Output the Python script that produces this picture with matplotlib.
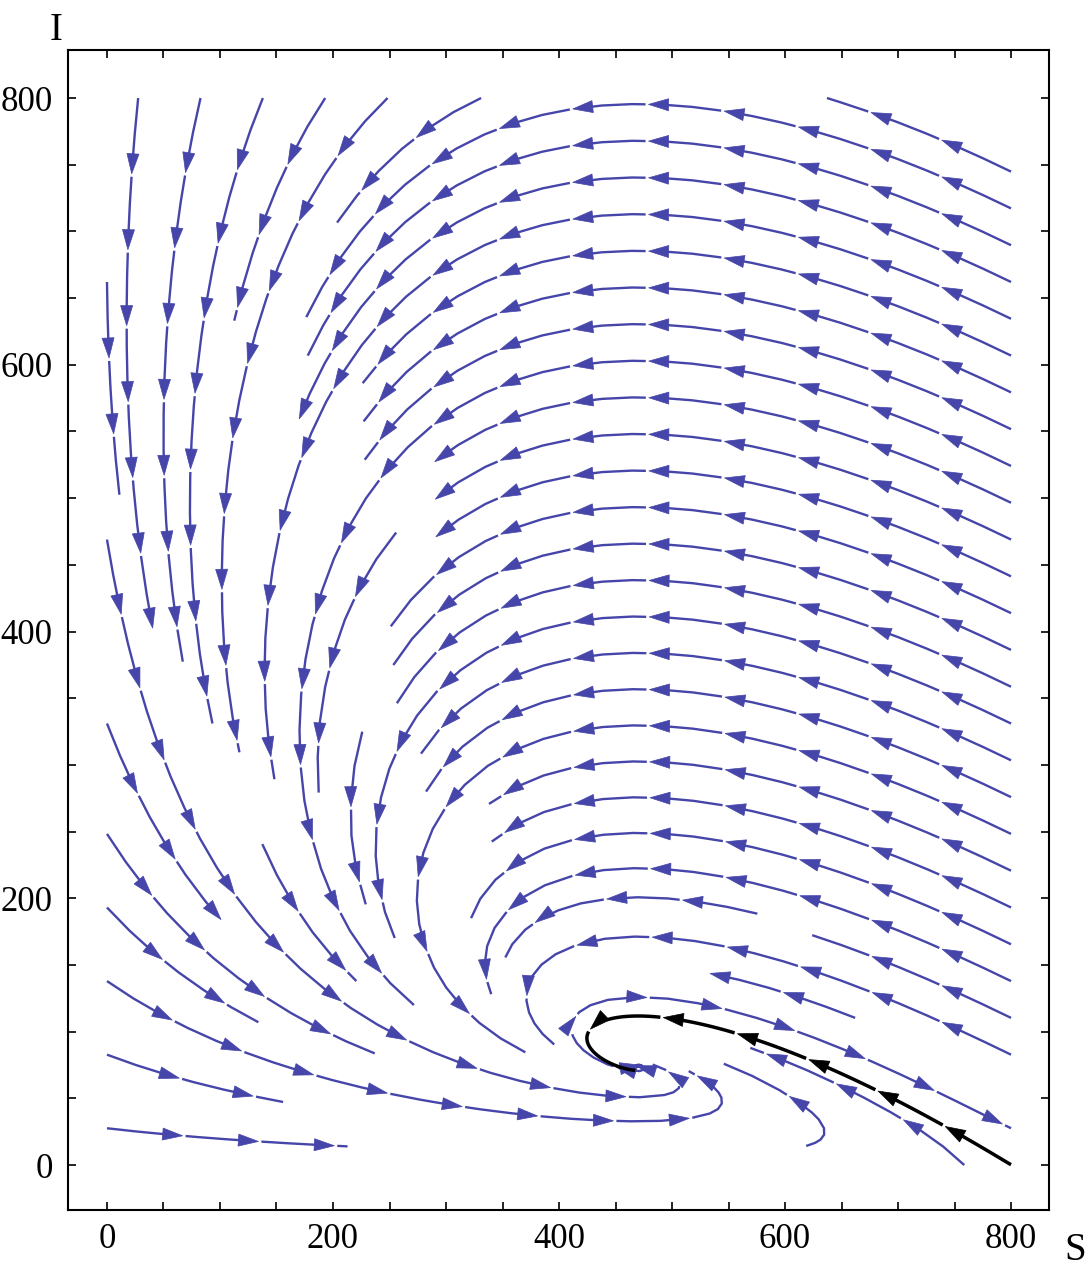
import numpy as np
import matplotlib
matplotlib.use('Agg')
import matplotlib.pyplot as plt
from matplotlib.collections import LineCollection, PolyCollection
from matplotlib.ticker import MultipleLocator

# vector field of the (S, I) phase plane
s_star = 470.0       # I-nullcline: dI/dt = 0 at S = s_star
null_amp = 706.0     # S-nullcline: I = null_amp*(exp(-S/null_scale) - exp(-s_max/null_scale))
null_scale = 240.0
s_rate = 800.0       # relative speed of S
s_weight = 267.0
s_max = 800.0
i_max = 800.0

# black orbit: starts next to (800, 0) and stops after one turn
orbit_start = (800.0, 0.3)
orbit_stop_s = 467.0

major_ticks = [0, 200, 400, 600, 800]
blue = '#4545AA'


def field(S, I):
    nul = null_amp * (np.exp(-S / null_scale) - np.exp(-s_max / null_scale))
    dS = s_rate * (S + s_weight) / (s_max + s_weight) * (nul - I)
    dI = I * (S - s_star)
    return dS, dI


fig = plt.figure(figsize=(10.88, 12.79), dpi=100)
ax = fig.add_axes([68 / 1088, 1 - 1210 / 1279, (1049 - 68) / 1088, (1210 - 50) / 1279])
ax.set_xlim(-34.5, 833.6)
ax.set_ylim(-33.7, 836)

to_px = ax.transData.transform
to_data = ax.transData.inverted().transform

# streamlines from matplotlib, on a scratch axes
Sg = np.linspace(0, s_max, 201)
Ig = np.linspace(0, i_max, 201)
SS, II = np.meshgrid(Sg, Ig)
U, V = field(SS, II)
tmp_fig, tmp_ax = plt.subplots()
sp = tmp_ax.streamplot(Sg, Ig, U, V, density=1.0, minlength=0.15)
segs = sp.lines.get_segments()
plt.close(tmp_fig)

paths = []
cur = None
for seg in segs:
    seg = np.asarray(seg)
    if cur is not None and np.allclose(seg[0], cur[-1]):
        cur.extend(list(seg[1:]))
    else:
        if cur is not None:
            paths.append(np.array(cur))
        cur = list(seg)
if cur is not None:
    paths.append(np.array(cur))


def chop(path, spacing=76.0, head_len=20.0, head_w=12.0, gap=3.0):
    P = to_px(path)
    d = np.hypot(*np.diff(P, axis=0).T)
    keep = np.concatenate([[True], d > 1e-6])
    P = P[keep]
    if len(P) < 2:
        return [], []
    s = np.concatenate([[0], np.cumsum(np.hypot(*np.diff(P, axis=0).T))])
    total = s[-1]

    def at(t):
        return np.array([np.interp(t, s, P[:, 0]), np.interp(t, s, P[:, 1])])

    def sub(a, b):
        inner = P[(s > a) & (s < b)]
        return np.vstack([at(a), inner, at(b)])

    lines, heads = [], []
    pos = 0.0
    tip = spacing
    while tip <= total:
        base = tip - head_len
        if base > pos:
            lines.append(to_data(sub(pos, base + 1)))
        t = at(tip)
        u = t - at(tip - 4)
        u = u / (np.hypot(*u) + 1e-12)
        n = np.array([-u[1], u[0]])
        b = t - u * head_len
        heads.append(to_data(np.array([t, b + n * head_w / 2, b - n * head_w / 2])))
        pos = tip + gap
        tip += spacing
    if total - pos > 6:
        lines.append(to_data(sub(pos, total)))
    return lines, heads


blue_lines, blue_heads = [], []
for p in paths:
    if len(p) < 2:
        continue
    # the I = 0 axis is invariant and is not drawn in the original
    if np.max(p[:, 1]) < 2:
        continue
    # keep the drawing order along the flow
    m = len(p) // 2
    dS, dI = field(p[m, 0], p[m, 1])
    tang = p[min(m + 1, len(p) - 1)] - p[max(m - 1, 0)]
    if tang[0] * dS + tang[1] * dI < 0:
        p = p[::-1]
    l, h = chop(p)
    blue_lines += l
    blue_heads += h

ax.add_collection(LineCollection(blue_lines, colors=blue, linewidths=1.7,
                                 capstyle='butt', zorder=2))
ax.add_collection(PolyCollection(blue_heads, facecolors=blue, edgecolors=blue,
                                 linewidths=0.5, zorder=2))

# black orbit, integrated along its arc length in pixel units
kx = to_px([[1, 0]])[0, 0] - to_px([[0, 0]])[0, 0]
ky = to_px([[0, 1]])[0, 1] - to_px([[0, 0]])[0, 1]


def direction(z):
    dS, dI = field(z[0], z[1])
    v = np.array([dS * kx, dI * ky])
    v = v / (np.hypot(*v) + 1e-12)
    return np.array([v[0] / kx, v[1] / ky])


z = np.array(orbit_start)
orbit = [z.copy()]
h = 1.0
turned = False
for _ in range(20000):
    k1 = direction(z)
    k2 = direction(z + h / 2 * k1)
    k3 = direction(z + h / 2 * k2)
    k4 = direction(z + h * k3)
    z = z + h / 6 * (k1 + 2 * k2 + 2 * k3 + k4)
    orbit.append(z.copy())
    if z[0] < orbit_stop_s - 20:
        turned = True
    if turned and z[0] >= orbit_stop_s and field(z[0], z[1])[0] > 0:
        break
orbit = np.array(orbit)

bl, bh = chop(orbit, head_len=20.0, head_w=13.0)
ax.add_collection(LineCollection(bl, colors='black', linewidths=2.5,
                                 capstyle='butt', zorder=3))
ax.add_collection(PolyCollection(bh, facecolors='black', edgecolors='black',
                                 linewidths=0.5, zorder=3))

# axes frame and ticks
font = 'Liberation Serif'
ax.set_xticks(major_ticks)
ax.set_yticks(major_ticks)
ax.xaxis.set_minor_locator(MultipleLocator(50))
ax.yaxis.set_minor_locator(MultipleLocator(50))
ax.tick_params(which='both', direction='in', length=6, width=1.2,
               top=True, right=True, labelsize=25)
ax.tick_params(axis='x', pad=9)
ax.tick_params(axis='y', pad=11)
for lab in ax.get_xticklabels() + ax.get_yticklabels():
    lab.set_fontfamily(font)
for sp_ in ax.spines.values():
    sp_.set_linewidth(1.5)

fig.text(56 / 1088, 1 - 30 / 1279, 'I', fontsize=28, family=font,
         ha='center', va='center')
fig.text(1075 / 1088, 1 - 1250 / 1279, 'S', fontsize=28, family=font,
         ha='center', va='center')

fig.savefig('out.png', dpi=100)
